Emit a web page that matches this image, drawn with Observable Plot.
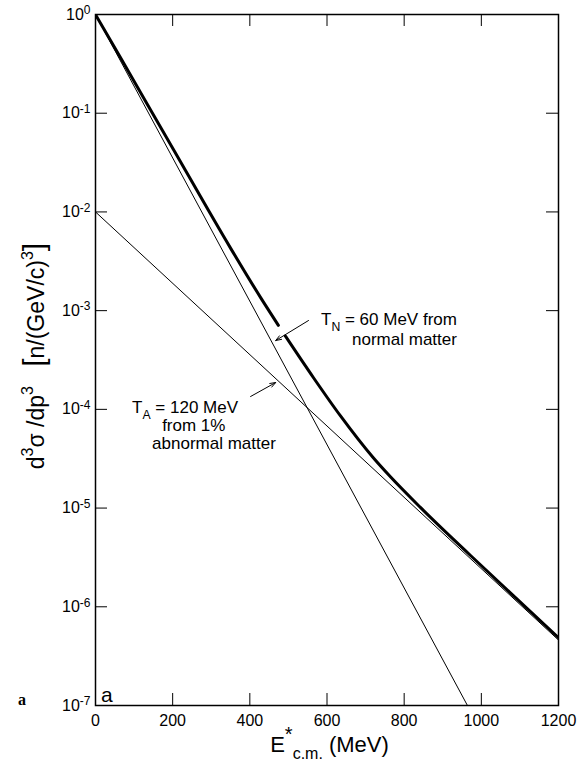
<!DOCTYPE html>
<html><head><meta charset="utf-8">
<script src="https://cdn.jsdelivr.net/npm/d3@7"></script>
<script src="https://cdn.jsdelivr.net/npm/@observablehq/plot@0.6"></script>
<style>body{margin:0;background:#fff}</style>
</head><body><div id="chart"></div>
<script>
// ---- data ----
const xTickValues = [0, 200, 400, 600, 800, 1000, 1200];
const xInnerTicks = [200, 400, 600, 800, 1000];
const yTickExponents = [0, -1, -2, -3, -4, -5, -6, -7];
const yInnerExponents = [-1, -2, -3, -4, -5, -6];

// thin line: T_N = 60 MeV, normal matter
const normalE = [0, 964];
const normalV = [1, 1e-7];
// thin line: T_A = 120 MeV, 1% abnormal matter
const abnormalE = [0, 1200];
const abnormalV = [1e-2, 4.6e-7];
// thick line: sum (drawn in two pieces, broken where the arrow points)
const totalE1 = [0, 65, 202, 350, 428, 474];
const totalV1 = [1.0, 0.364, 0.0429, 4.3e-3, 1.354e-3, 7.1e-4];
const totalE2 = [492, 565, 635, 720, 765, 842, 925, 972, 1076, 1200];
const totalV2 = [5.54e-4, 2.09e-4, 8.57e-5, 3.23e-5, 2.06e-5, 1.016e-5, 4.93e-6, 3.31e-6, 1.376e-6, 4.86e-7];

// annotation arrows (tail -> head), data coordinates
const arrowE1 = [552, 402];
const arrowV1 = [7.94e-4, 1.35e-4];
const arrowE2 = [467, 467];
const arrowV2 = [4.98e-4, 1.87e-4];

// ---- build tables ----
const toRows = (E, V, seg) => E.map((e, i) => ({E: e, v: V[i], seg}));
const normal = toRows(normalE, normalV, 0);
const abnormal = toRows(abnormalE, abnormalV, 0);
const total = toRows(totalE1, totalV1, 1).concat(toRows(totalE2, totalV2, 2));
const arrows = arrowE1.map((e, i) => ({x1: e, y1: arrowV1[i], x2: arrowE2[i], y2: arrowV2[i]}));
const yTicks = yTickExponents.map(e => Math.pow(10, e));
const yInner = yInnerExponents.map(e => Math.pow(10, e));

const W = 580, H = 762, ML = 95, MR = 22, MT = 14, MB = 57;
const FW = W - ML - MR, FH = H - MT - MB, TL = 12;
const FONT = "'Liberation Sans', Arial, sans-serif";

const plot = Plot.plot({
  width: W, height: H,
  marginLeft: ML, marginRight: MR, marginTop: MT, marginBottom: MB,
  style: {fontFamily: FONT, fontSize: "16px", color: "#000", background: "#fff", overflow: "visible"},
  x: {domain: [0, 1200]},
  y: {type: "log", domain: [1e-7, 1]},
  marks: [
    Plot.line(normal, {x: "E", y: "v", stroke: "#000", strokeWidth: 1, clip: true}),
    Plot.line(abnormal, {x: "E", y: "v", stroke: "#000", strokeWidth: 1, clip: true}),
    Plot.line(total, {x: "E", y: "v", z: "seg", stroke: "#000", strokeWidth: 3, curve: "monotone-x", clip: true}),
    Plot.tickX(xInnerTicks, {x: d => d, insetBottom: FH - TL, stroke: "#000", strokeWidth: 1}),
    Plot.tickX(xInnerTicks, {x: d => d, insetTop: FH - TL, stroke: "#000", strokeWidth: 1}),
    Plot.tickY(yInner, {y: d => d, insetRight: FW - TL, stroke: "#000", strokeWidth: 1}),
    Plot.tickY(yInner, {y: d => d, insetLeft: FW - TL, stroke: "#000", strokeWidth: 1}),
    Plot.frame({stroke: "#000", strokeWidth: 1.5}),
    Plot.axisX({ticks: xTickValues, tickSize: 0, tickPadding: 9, label: null, fontSize: 16,
      tickFormat: d => String(d)}),
    Plot.axisY({ticks: yTicks, tickSize: 0, tickPadding: 5, label: null, fontSize: 16,
      tickFormat: d => "10^" + Math.round(Math.log10(d))}),
    Plot.arrow(arrows, {x1: "x1", y1: "y1", x2: "x2", y2: "y2", stroke: "#000", strokeWidth: 1,
      headLength: 9, headAngle: 40, bend: 0})
  ]
});
document.getElementById("chart").append(plot);

const svg = d3.select(plot);
// superscript exponents on y tick labels
svg.selectAll('g[aria-label="y-axis tick label"] text').each(function () {
  const t = d3.select(this);
  const [b, e] = t.text().split("^");
  t.text(b);
  t.append("tspan").attr("dy", "-0.45em").attr("font-size", 12).text(e);
});

const X = plot.scale("x"), Y = plot.scale("y");
function addText(x, y, parts, opts = {}) {
  const t = svg.append("text")
    .attr("x", x).attr("y", y)
    .attr("font-family", opts.family || FONT)
    .attr("font-size", opts.size || 17)
    .attr("font-weight", opts.weight || "normal")
    .attr("text-anchor", opts.anchor || "start")
    .attr("fill", "#000");
  if (opts.transform) t.attr("transform", opts.transform);
  let off = 0;
  for (const [s, kind, sz] of parts) {
    const sp = t.append("tspan").text(s);
    let target = 0;
    if (kind === "sub") target = 0.32;
    if (kind === "sup") target = -0.5;
    const base = opts.size || 17;
    const dy = (target - off) * base;
    if (dy !== 0) sp.attr("dy", dy);
    off = target;
    if (kind) sp.attr("font-size", sz || base * 0.72);
    else if (sz) sp.attr("font-size", sz);
  }
  return t;
}

// annotations
addText(X.apply(938), Y.apply(7.06e-4), [["T"], ["N", "sub"], [" = 60 MeV from"]], {anchor: "end", size: 17});
addText(X.apply(938), Y.apply(4.43e-4), [["normal matter"]], {anchor: "end", size: 17});
addText(X.apply(96), Y.apply(9.06e-5), [["T"], ["A", "sub"], [" = 120 MeV"]], {size: 17});
addText(X.apply(174), Y.apply(5.96e-5), [["from 1%"]], {size: 17});
addText(X.apply(148), Y.apply(3.92e-5), [["abnormal matter"]], {size: 17});

// panel letters
addText(X.apply(0) + 6, Y.apply(1e-7) - 3, [["a"]], {size: 21});
addText(18, Y.apply(1e-7), [["a"]], {size: 16, weight: "bold", family: "'Liberation Serif', 'Times New Roman', serif"});

// x axis title
addText((X.apply(0) + X.apply(1200)) / 2 + 3, 752,
  [["E"], ["*", "sup", 20], ["c.m.", "sub", 16], [" (MeV)"]], {anchor: "middle", size: 22});

// y axis title
addText(0, 0,
  [["d"], ["3", "sup", 16], ["σ /dp"], ["3", "sup", 16], ["   "], ["[", null, 30], ["n/(GeV/c)"], ["3", "sup", 16], ["]", null, 30]],
  {anchor: "middle", size: 23, transform: "translate(44,356) rotate(-90)"});
</script>
</body></html>
